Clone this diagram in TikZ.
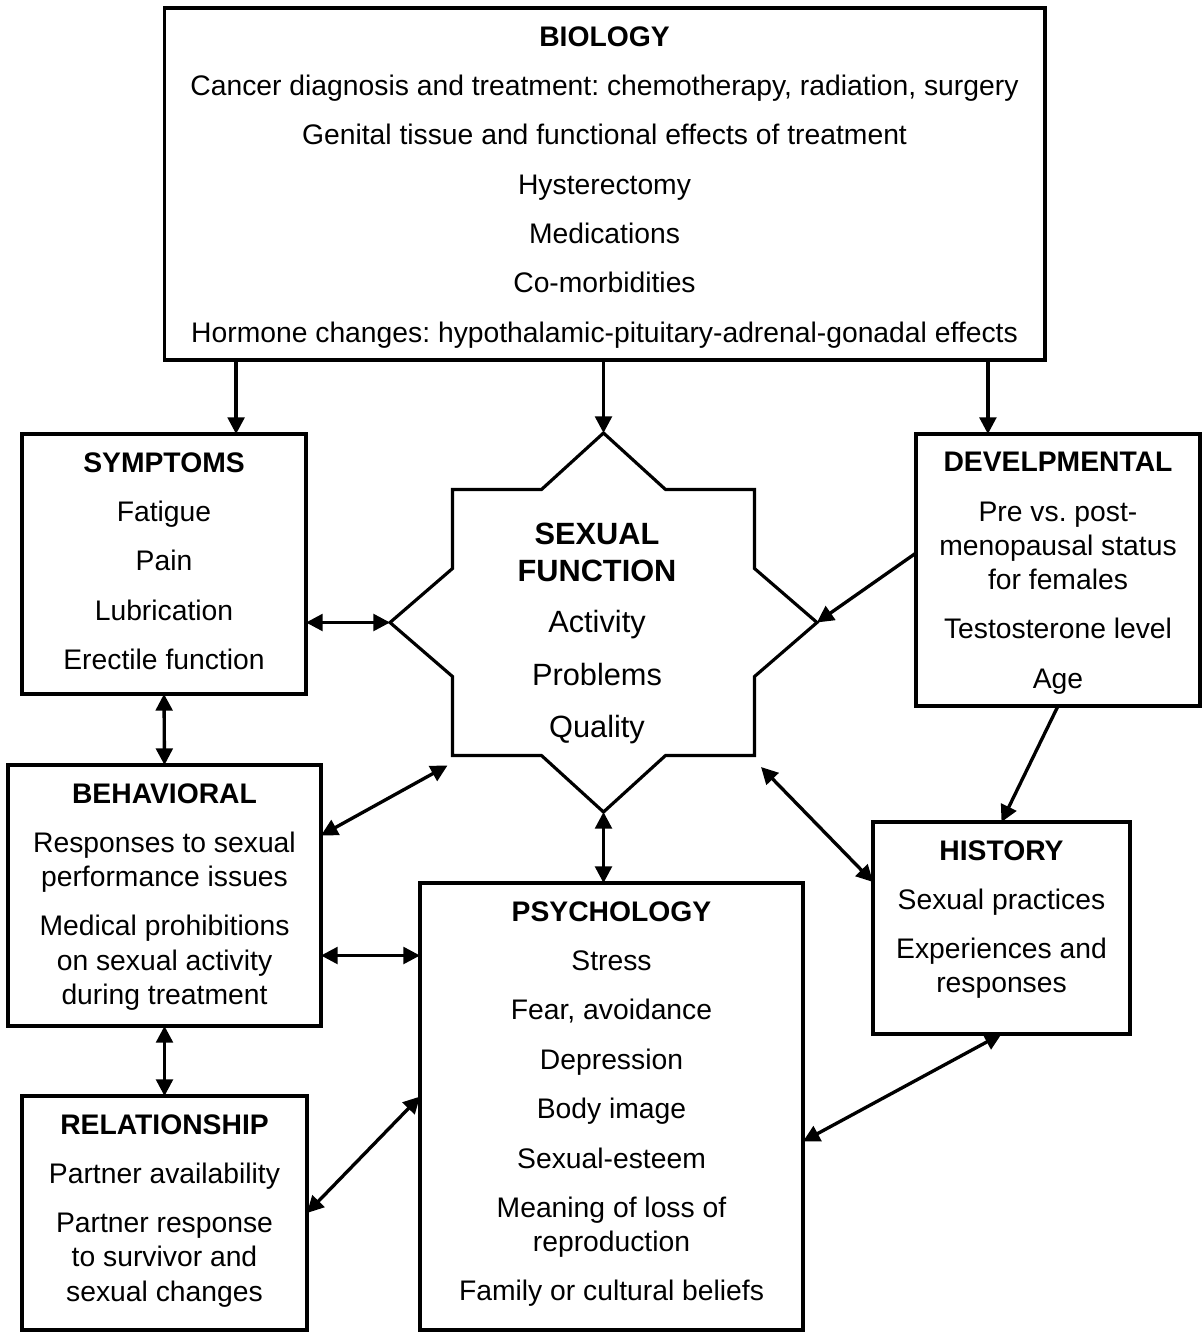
\documentclass[tikz,border=0pt]{standalone}
\usepackage{fontspec}
\setmainfont{Liberation Sans}
\frenchspacing
\usetikzlibrary{positioning,calc,arrows.meta}
\tikzset{
  box/.style={draw, line width=1.8pt, inner sep=0pt, outer sep=0pt},
  txt/.style={align=center, inner sep=0pt, font=\fontsize{16.1pt}{19.4pt}\selectfont},
  arr/.style={line width=1.9pt, -{Triangle[length=9.5pt,width=9.5pt]}},
  darr/.style={line width=1.9pt, {Triangle[length=9.5pt,width=9.5pt]}-{Triangle[length=9.5pt,width=9.5pt]}},
}
\begin{document}
\begin{tikzpicture}[x=0.02cm, y=-0.02cm]
\useasboundingbox (0,0) rectangle (1202,1332);

% boxes
\node[box, minimum width=17.62cm, minimum height=7.04cm] (bio) at (604.5,184) {};
\node[box, minimum width=5.68cm, minimum height=5.2cm] (sym) at (164,564) {};
\node[box, minimum width=5.68cm, minimum height=5.44cm] (dev) at (1058,570) {};
\node[box, minimum width=6.26cm, minimum height=5.22cm] (beh) at (164.5,895.5) {};
\node[box, minimum width=5.14cm, minimum height=4.24cm] (his) at (1001.5,928) {};
\node[box, minimum width=7.66cm, minimum height=8.94cm] (psy) at (611.5,1106.5) {};
\node[box, minimum width=5.7cm, minimum height=4.68cm] (rel) at (164.5,1213) {};

% star
\node[minimum width=8.54cm, minimum height=7.58cm, inner sep=0pt, outer sep=0pt] (sf) at (603.5,622.5) {};
\draw[line width=1.8pt, shift={(sf.center)}] (0,-189.5) -- (62,-133) -- (151,-133) -- (151,-54)
  -- (213.5,0) -- (151,54) -- (151,133) -- (62,133) -- (0,189.5) -- (-62,133) -- (-151,133)
  -- (-151,54) -- (-213.5,0) -- (-151,-54) -- (-151,-133) -- (-62,-133) -- cycle;

% texts
\node[txt, below=0.36cm of bio.north] (biot) {\textbf{BIOLOGY}\\[8.7pt]
  Cancer diagnosis and treatment: chemotherapy, radiation, surgery\\[8.7pt]
  Genital tissue and functional effects of treatment\\[8.7pt]
  Hysterectomy\\[8.7pt] Medications\\[8.7pt] Co-morbidities\\[8.7pt]
  Hormone changes: hypothalamic-pituitary-adrenal-gonadal effects};
\node[txt, below=0.36cm of sym.north] (symt) {\textbf{SYMPTOMS}\\[8.7pt]
  Fatigue\\[8.7pt] Pain\\[8.7pt] Lubrication\\[8.7pt] Erectile function};
\node[txt, below=0.36cm of dev.north] (devt) {\textbf{DEVELPMENTAL}\\[8.7pt]
  Pre vs. post-\\menopausal status\\for females\\[8.7pt] Testosterone level\\[8.7pt] Age};
\node[txt, below=0.36cm of beh.north] (beht) {\textbf{BEHAVIORAL}\\[8.7pt]
  Responses to sexual\\performance issues\\[8.7pt]
  Medical prohibitions\\on sexual activity\\during treatment};
\node[txt, below=0.36cm of his.north] (hist) {\textbf{HISTORY}\\[8.7pt]
  Sexual practices\\[8.7pt] Experiences and\\responses};
\node[txt, below=0.36cm of psy.north] (psyt) {\textbf{PSYCHOLOGY}\\[8.7pt]
  Stress\\[8.7pt] Fear, avoidance\\[8.7pt] Depression\\[8.7pt] Body image\\[8.7pt]
  Sexual-esteem\\[8.7pt] Meaning of loss of\\reproduction\\[8.7pt] Family or cultural beliefs};
\node[txt, below=0.36cm of rel.north] (relt) {\textbf{RELATIONSHIP}\\[8.7pt]
  Partner availability\\[8.7pt] Partner response\\to survivor and\\sexual changes};
\node[txt, font=\fontsize{17.5pt}{21pt}\selectfont, anchor=north] (sft) at ($(sf.center)+(-6.5,-99.5)$)
  {\textbf{SEXUAL}\\[-0.2pt] \textbf{FUNCTION}\\[8.3pt] Activity\\[8.8pt] Problems\\[8.8pt] Quality};

% connectors
\coordinate (bsl) at ($(bio.south west)+(72,0)$);
\coordinate (bsr) at ($(bio.south east)+(-57,0)$);
\coordinate (bpe) at ($(beh.east)+(0,60)$);
\draw[arr] (bsl) -- (bsl |- sym.north);
\draw[arr] (sf.north |- bio.south) -- (sf.north);
\draw[arr] (bsr) -- (bsr |- dev.north);
\draw[darr] (sym.east |- sf.west) -- (sf.west);
\draw[arr] ($(dev.west)+(0,-17)$) -- (sf.east);
\draw[darr] (sym.south) -- (beh.north);
\draw[darr] ($(beh.east)+(0,-60)$) -- ($(sf.center)+(-156,143)$);
\draw[darr] (bpe) -- (bpe -| psy.west);
\draw[darr] (beh.south) -- (rel.north);
\draw[darr] (sf.south) -- (sf.south |- psy.north);
\draw[darr] ($(sf.center)+(157.5,144.5)$) -- ($(his.west)+(0,-46)$);
\draw[arr] (dev.south) -- (his.north);
\draw[darr] (rel.east) -- ($(psy.west)+(0,-10)$);
\draw[darr] (his.south) -- ($(psy.east)+(0,35)$);
\end{tikzpicture}
\end{document}
